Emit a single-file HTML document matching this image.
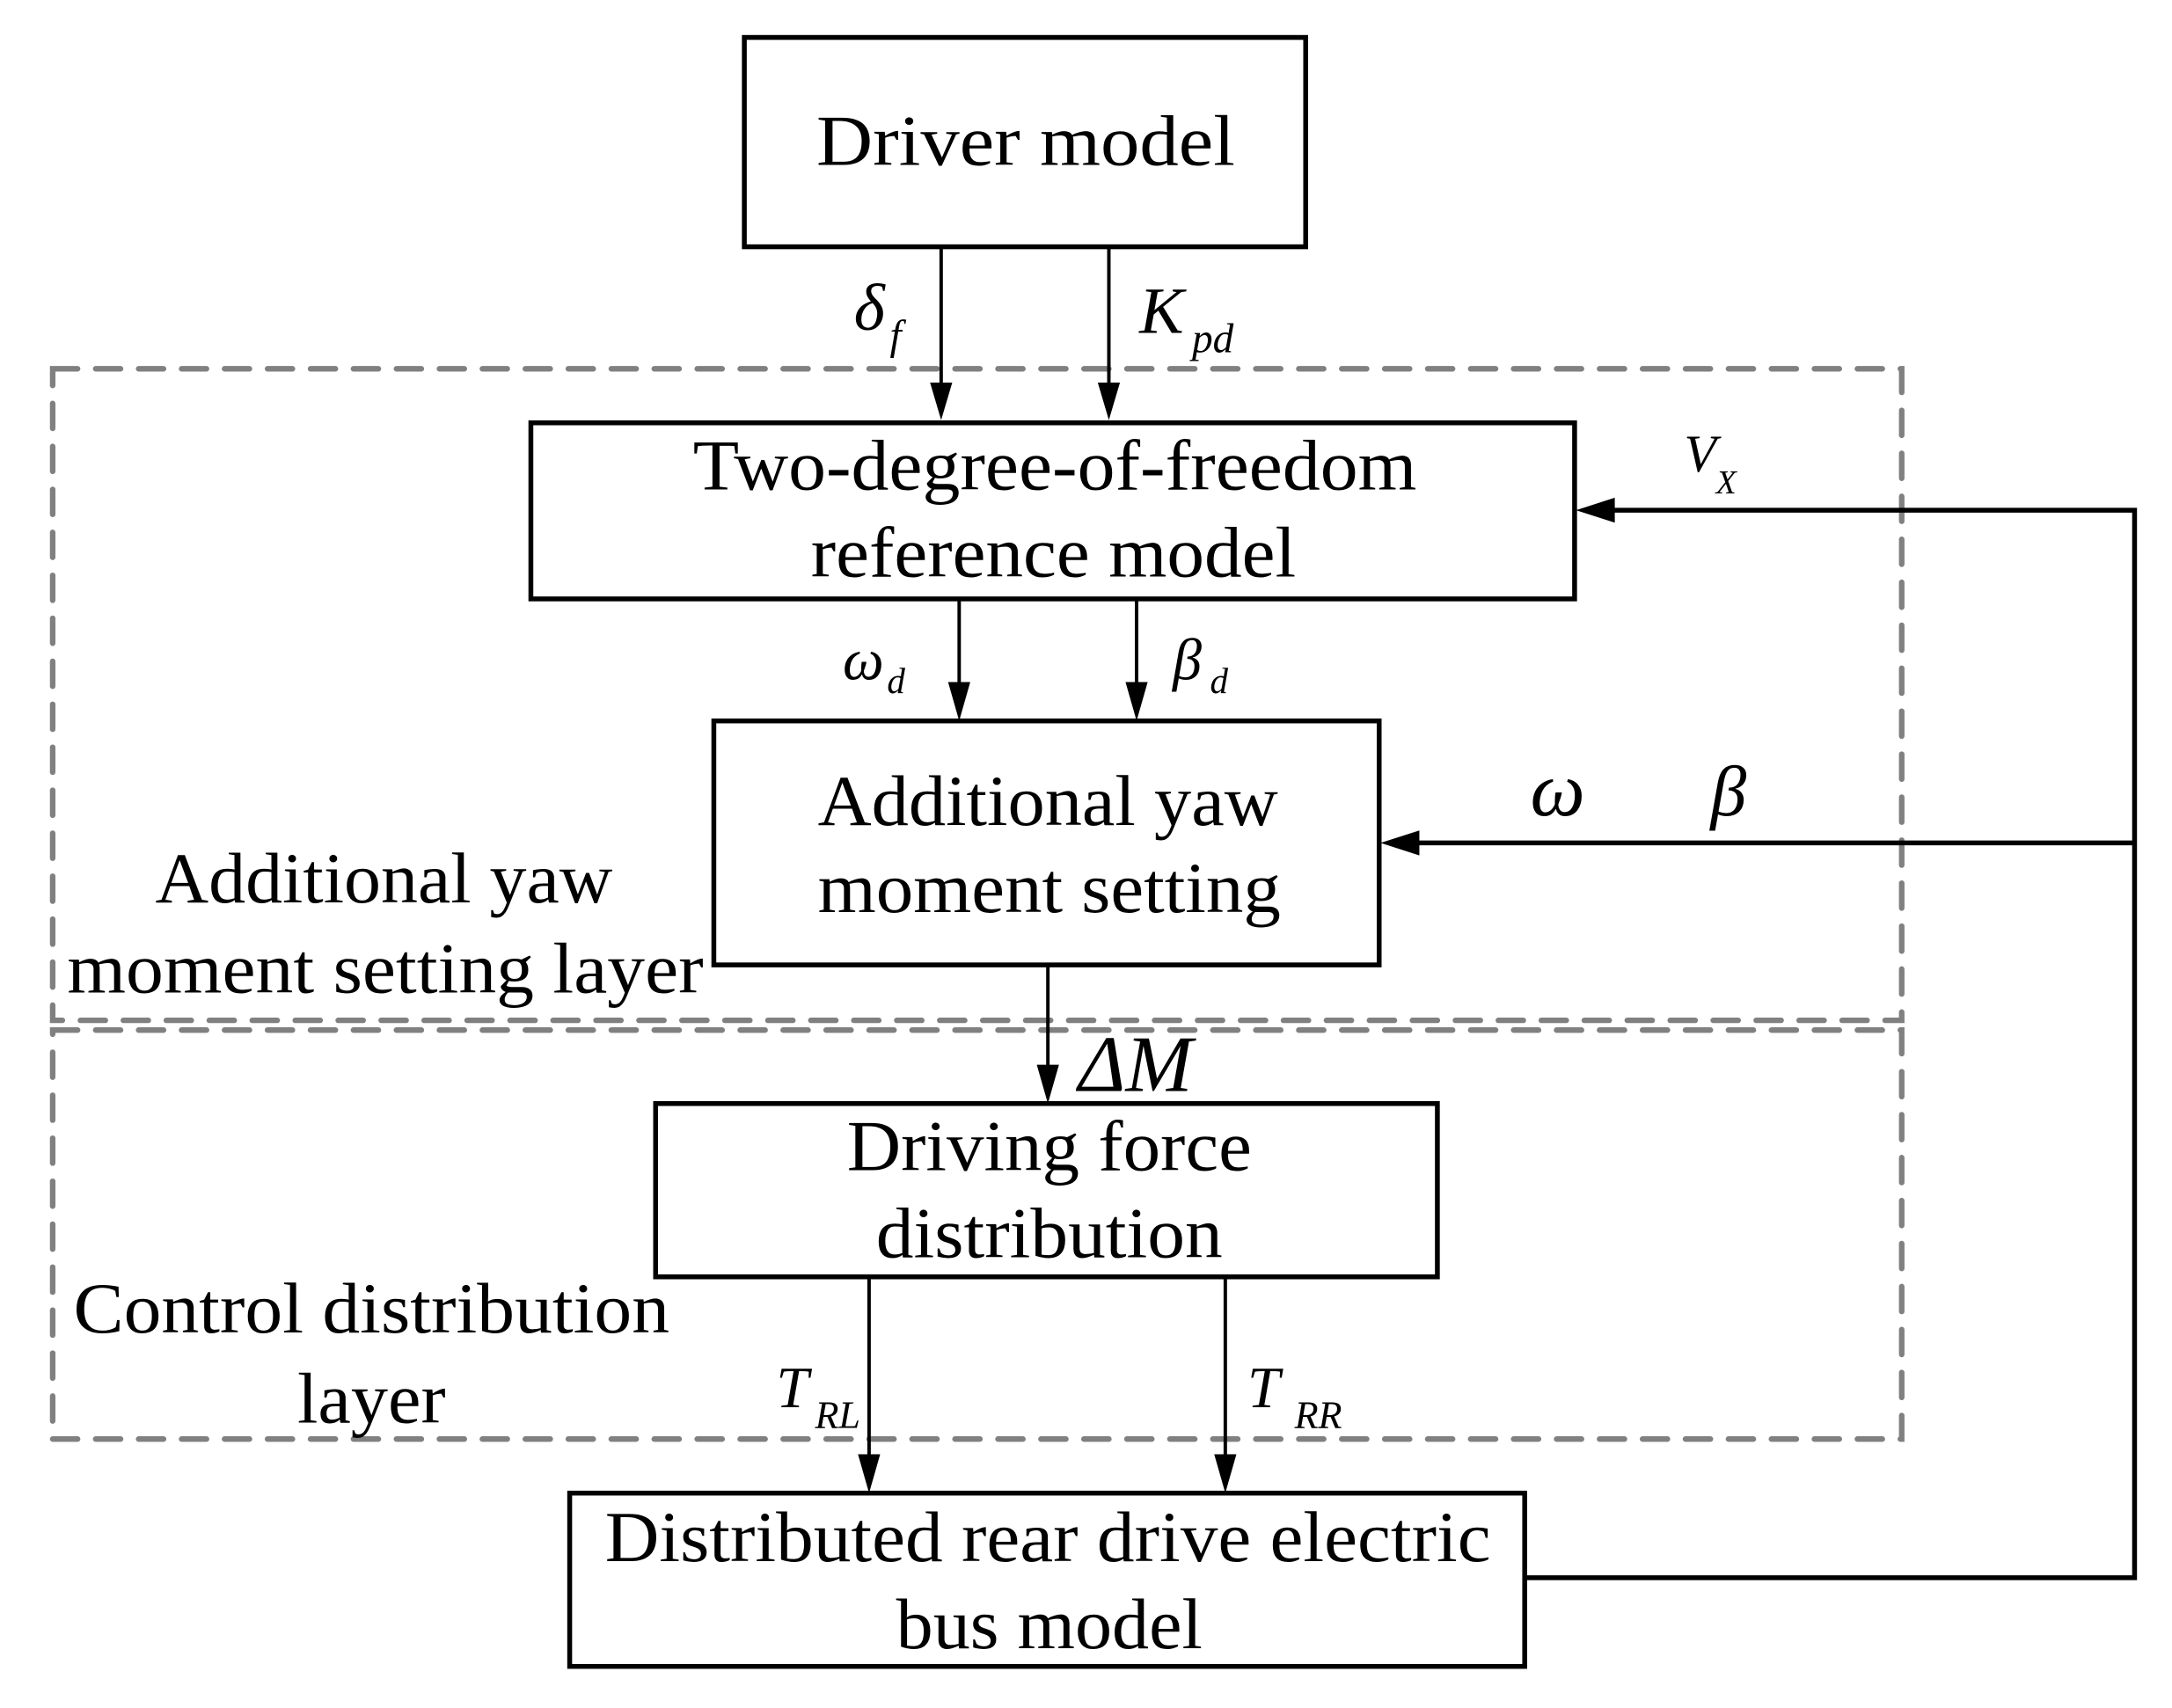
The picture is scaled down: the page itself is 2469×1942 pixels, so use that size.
<!DOCTYPE html>
<html><head><meta charset="utf-8"><style>
html,body{margin:0;padding:0;background:#fff}
svg{display:block}
text{font-family:"Liberation Serif",serif;fill:#000}
.t{font-size:52px;text-anchor:middle}
.i{font-style:italic}
</style></head><body>
<svg width="2469" height="1942" viewBox="0 0 1567 1232" preserveAspectRatio="none" xmlns="http://www.w3.org/2000/svg">
<g fill="none" stroke="#808080" stroke-width="4" stroke-dasharray="18 13" stroke-linecap="round">
<rect x="38" y="266" width="1334" height="470"/>
<rect x="38" y="743" width="1334" height="295"/>
</g>
<g fill="none" stroke="#000" stroke-width="3.5">
<rect x="537" y="27" width="405" height="151"/>
<rect x="383" y="305" width="753" height="127"/>
<rect x="515" y="520" width="480" height="176"/>
<rect x="473" y="796" width="564" height="125"/>
<rect x="411" y="1077" width="689" height="125"/>
<polyline points="1100,1138 1540,1138 1540,368 1160,368"/>
<line x1="1540" y1="608" x2="1020" y2="608"/>
</g>
<g stroke="#000" stroke-width="2.5" fill="none">
<line x1="679" y1="178" x2="679" y2="280"/>
<line x1="800" y1="178" x2="800" y2="280"/>
<line x1="692" y1="432" x2="692" y2="498"/>
<line x1="820" y1="432" x2="820" y2="498"/>
<line x1="756" y1="696" x2="756" y2="773"/>
<line x1="627" y1="921" x2="627" y2="1055"/>
<line x1="884" y1="921" x2="884" y2="1055"/>
</g>
<g fill="#000">
<path d="M671,276 L687,276 L679,303 z"/>
<path d="M792,276 L808,276 L800,303 z"/>
<path d="M684,492 L700,492 L692,520 z"/>
<path d="M812,492 L828,492 L820,520 z"/>
<path d="M748,768 L764,768 L756,796 z"/>
<path d="M619,1049 L635,1049 L627,1077 z"/>
<path d="M876,1049 L892,1049 L884,1077 z"/>
<path d="M1137,368 L1165,359 L1165,377 z"/>
<path d="M996,608 L1024,599 L1024,617 z"/>
</g>
<g lengthAdjust="spacingAndGlyphs">
<text class="t" x="740" y="119" textLength="302" lengthAdjust="spacingAndGlyphs">Driver  model</text>
<text class="t" x="761" y="353" textLength="522" lengthAdjust="spacingAndGlyphs">Two-degree-of-freedom</text>
<text class="t" x="760" y="416" textLength="350" lengthAdjust="spacingAndGlyphs">reference model</text>
<text class="t" x="756" y="595" textLength="332" lengthAdjust="spacingAndGlyphs">Additional yaw</text>
<text class="t" x="757" y="658" textLength="334" lengthAdjust="spacingAndGlyphs">moment setting</text>
<text class="t" x="277" y="651" textLength="330" lengthAdjust="spacingAndGlyphs">Additional yaw</text>
<text class="t" x="278" y="716" textLength="459" lengthAdjust="spacingAndGlyphs">moment setting layer</text>
<text class="t" x="757" y="844" textLength="292" lengthAdjust="spacingAndGlyphs">Driving force</text>
<text class="t" x="757" y="907" textLength="250" lengthAdjust="spacingAndGlyphs">distribution</text>
<text class="t" x="268" y="961" textLength="430" lengthAdjust="spacingAndGlyphs">Control distribution</text>
<text class="t" x="268" y="1026" textLength="107" lengthAdjust="spacingAndGlyphs">layer</text>
<text class="t" x="756" y="1126" textLength="639" lengthAdjust="spacingAndGlyphs">Distributed rear drive electric</text>
<text class="t" x="757" y="1189" textLength="221" lengthAdjust="spacingAndGlyphs">bus model</text>
</g>
<text class="i" x="616" y="238" font-size="48">δ</text><text class="i" x="642" y="252" font-size="30">f</text>
<text class="i" x="822" y="240" font-size="48">K</text><text class="i" x="860" y="254" font-size="30">pd</text>
<text class="i" x="1215" y="340" font-size="38">V</text><text class="i" x="1238" y="356" font-size="24">X</text>
<text class="i" x="608" y="490" font-size="42">ω</text><text class="i" x="640" y="500" font-size="26">d</text>
<text class="i" x="846" y="490" font-size="42">β</text><text class="i" x="873" y="500" font-size="26">d</text>
<text class="i" x="1104" y="588" font-size="56">ω</text>
<text class="i" x="1234" y="588" font-size="52">β</text>
<text class="i" x="778" y="787" font-size="58">ΔM</text>
<text class="i" x="560" y="1015" font-size="42">T</text><text class="i" x="588" y="1030" font-size="28">RL</text>
<text class="i" x="900" y="1015" font-size="42">T</text><text class="i" x="934" y="1030" font-size="28">RR</text>
</svg>
</body></html>
